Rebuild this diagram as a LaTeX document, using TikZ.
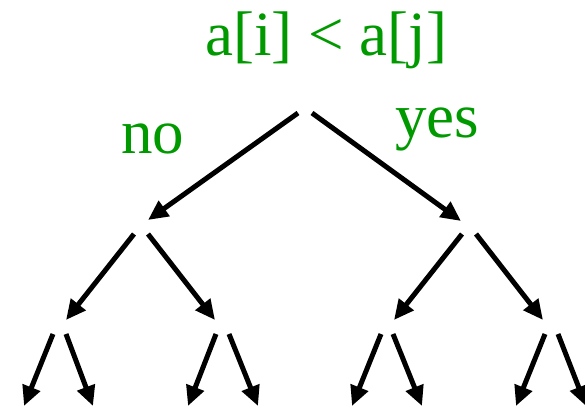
\documentclass[tikz,border=0pt]{standalone}
\usepackage{fontspec}
\setmainfont{Liberation Serif}
\usetikzlibrary{arrows.meta}
\definecolor{lblgreen}{RGB}{0,153,0}
\begin{document}
\begin{tikzpicture}[x=1pt,y=-1pt,
  edge/.style={line width=5pt,-{Triangle[length=20pt,width=18pt]}},
  lbl/.style={text=lblgreen,font=\fontsize{63}{72}\selectfont,inner sep=0pt,anchor=base west}]
\useasboundingbox (0,0) rectangle (585,408);
% labels
\node[lbl,anchor=base] (cmp) at (326,55) {a[i] < a[j]};
\node[lbl] (no) at (121,153) {no};
\node[lbl] (yes) at (395,137) {yes};
% level 1
\coordinate (r1) at (298,113);
\coordinate (r2) at (312,113);
\coordinate (L) at (148,220);
\coordinate (R) at (461,221);
\draw[edge] (r1) -- (L);
\draw[edge] (r2) -- (R);
% level 2
\coordinate (L1) at (134,234);
\coordinate (L2) at (148,234);
\coordinate (R1) at (462,234);
\coordinate (R2) at (476,234);
\coordinate (LL) at (66,320);
\coordinate (LR) at (215,320);
\coordinate (RL) at (394,320);
\coordinate (RR) at (543,320);
\draw[edge] (L1) -- (LL);
\draw[edge] (L2) -- (LR);
\draw[edge] (R1) -- (RL);
\draw[edge] (R2) -- (RR);
% level 3
\coordinate (a1) at (53,334);
\coordinate (a2) at (66,334);
\coordinate (b1) at (216,334);
\coordinate (b2) at (229,334);
\coordinate (c1) at (381,334);
\coordinate (c2) at (393,334);
\coordinate (d1) at (545,334);
\coordinate (d2) at (558,334);
\coordinate (A1) at (24,406);
\coordinate (A2) at (93,406);
\coordinate (B1) at (188,406);
\coordinate (B2) at (258,406);
\coordinate (C1) at (352,406);
\coordinate (C2) at (422,406);
\coordinate (D1) at (516,406);
\coordinate (D2) at (586,406);
\draw[edge] (a1) -- (A1);
\draw[edge] (a2) -- (A2);
\draw[edge] (b1) -- (B1);
\draw[edge] (b2) -- (B2);
\draw[edge] (c1) -- (C1);
\draw[edge] (c2) -- (C2);
\draw[edge] (d1) -- (D1);
\draw[edge] (d2) -- (D2);
\end{tikzpicture}
\end{document}
